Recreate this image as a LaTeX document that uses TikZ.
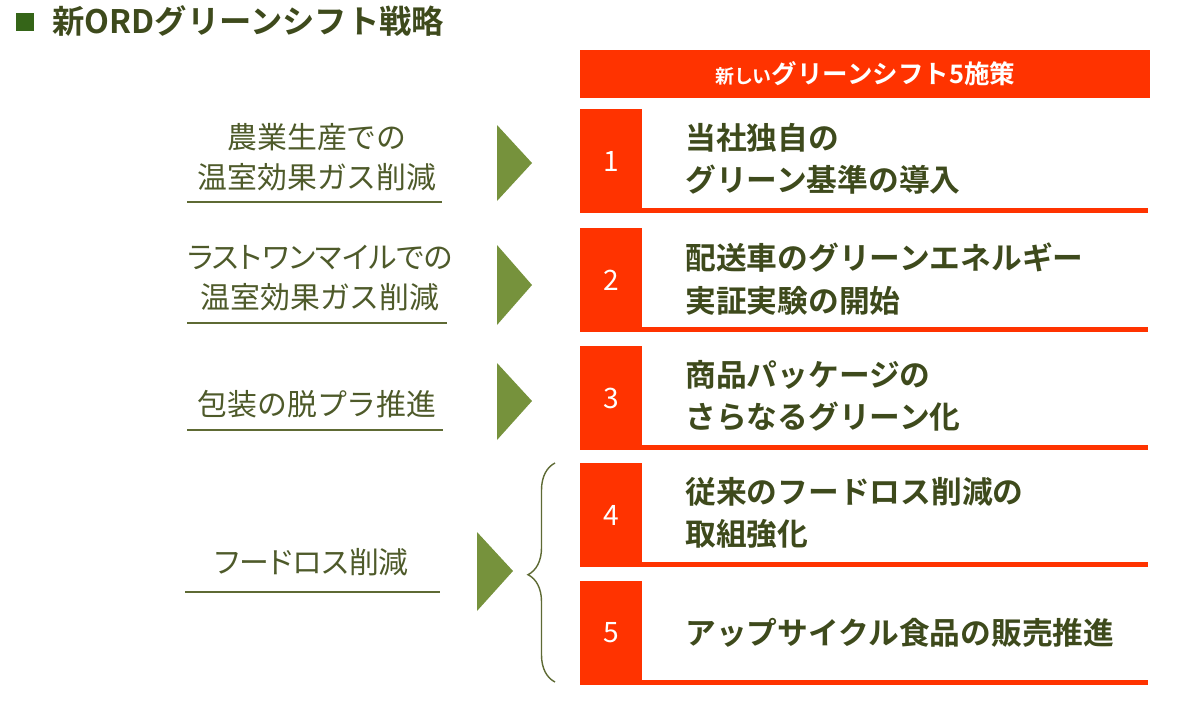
\documentclass[tikz,border=0pt]{standalone}
\usepackage{fontspec}
\setmainfont{Noto Sans CJK JP}[BoldFont={Noto Sans CJK JP Bold}]
\usepackage{tikz}
\usetikzlibrary{positioning,calc,decorations.pathreplacing}
\definecolor{ordred}{HTML}{FF3300}
\definecolor{ordtext}{HTML}{3E4A1C}
\definecolor{ordlab}{HTML}{4E5A2A}
\definecolor{ordline}{HTML}{5E6A34}
\definecolor{ordtri}{HTML}{76923C}
\def\prop{\addfontfeature{RawFeature=+palt}}
\tikzset{
    numbox/.style={rectangle, fill=ordred, text=white, minimum width=1.24cm, minimum height=2.07cm, inner sep=0pt, font=\fontsize{16}{18}\selectfont},
    item/.style={anchor=west, align=left, text=ordtext, inner sep=0pt, font=\fontsize{17.5}{24}\selectfont\bfseries},
    lab/.style={align=center, text=ordlab, inner sep=0pt, font=\fontsize{17}{23}\selectfont},
    uline/.style={draw=ordline, line width=0.8pt},
    tri/.style={fill=ordtri},
    brc/.style={draw=ordline, line width=0.8pt, decorate, decoration={brace, amplitude=0.54cm, aspect=0.49}},
}

\begin{document}
\begin{tikzpicture}[x=0.02cm, y=-0.02cm]
    \useasboundingbox (0,0) rectangle (1187,707);

    % title
    \fill[ordtext!85!green] (16,13) rectangle (34,31);
    \node[anchor=west, text=ordtext, inner sep=0pt, font=\fontsize{18.4}{20}\selectfont\bfseries] (title) at (52,21) {新ORDグリーンシフト戦略};

    % header bar
    \node[fill=ordred, minimum width=11.4cm, minimum height=0.96cm, inner sep=0pt, text=white, font=\bfseries] (head) at (865,74)
        {{\fontsize{10.8}{12}\selectfont 新しい}{\fontsize{14.5}{16}\selectfont グリーンシフト5施策}};

    % numbered boxes with bottom bars
    \foreach \i/\y in {1/161,2/280,3/398,4/515,5/633} {
        \node[numbox] (n\i) at (611,\y) {\i};
        \fill[ordred] (n\i.south east) rectangle ($(n\i.south east)+(506,-5)$);
    }

    \node[item] (t1) at (685,159) {当社独自の\\グリーン基準の導入};
    \node[item] (t2) at (685,279) {配送車のグリーンエネルギー\\実証実験の開始};
    \node[item] (t3) at (685,396) {商品パッケージの\\さらなるグリーン化};
    \node[item] (t4) at (685,513) {従来のフードロス削減の\\取組強化};
    \node[item] (t5) at (685,633) {アップサイクル食品の販売推進};

    % left labels
    \node[lab] (l1) at (317,157) {農業生産での\\温室効果ガス削減};
    \node[lab] (l2) at (320,278) {{\prop ラストワンマイルでの}\\温室効果ガス削減};
    \node[lab] (l3) at (317,404) {包装の脱プラ推進};
    \node[lab] (l4) at (312,562) {\prop フードロス削減};

    \draw[uline] (187,202) -- (442,202);
    \draw[uline] (187,323) -- (447,323);
    \draw[uline] (187,430) -- (443,430);
    \draw[uline] (185,592) -- (440,592);

    % arrows
    \fill[tri] (497,125) -- (532,163) -- (497,201) -- cycle;
    \fill[tri] (497,245) -- (532,285) -- (497,325) -- cycle;
    \fill[tri] (497,363) -- (532,401) -- (497,440) -- cycle;
    \fill[tri] (477,532) -- (513,571) -- (477,611) -- cycle;

    \draw[brc] (555,682) -- (555,463);
\end{tikzpicture}
\end{document}
